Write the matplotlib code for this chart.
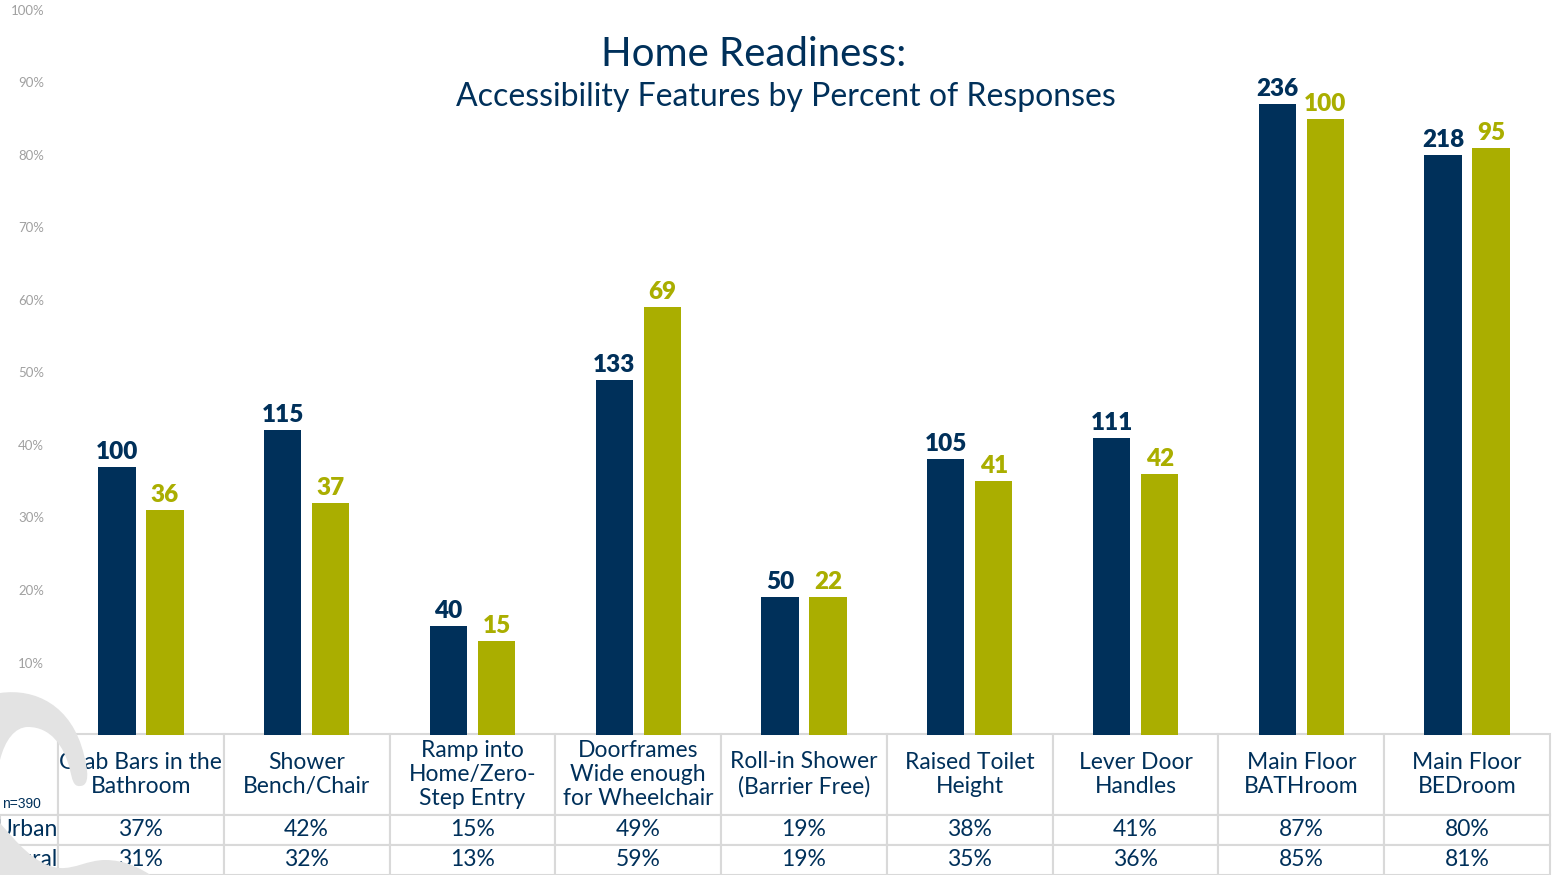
import matplotlib.pyplot as plt
from matplotlib.path import Path
from matplotlib.patches import PathPatch
from matplotlib.table import Table
import numpy as np

# Survey results, n=390
categorias = [
    "Grab Bars in the\nBathroom", "Shower\nBench/Chair", "Ramp into\nHome/Zero-\nStep Entry",
    "Doorframes\nWide enough\nfor Wheelchair", "Roll-in Shower\n(Barrier Free)", "Raised Toilet\nHeight",
    "Lever Door\nHandles", "Main Floor\nBATHroom", "Main Floor\nBEDroom",
]
urban_pct = [37, 42, 15, 49, 19, 38, 41, 87, 80]
rural_pct = [31, 32, 13, 59, 19, 35, 36, 85, 81]
urban_n = [100, 115, 40, 133, 50, 105, 111, 236, 218]
rural_n = [36, 37, 15, 69, 22, 41, 42, 100, 95]
linhas = ["Urban", "Rural"]
yticks = list(range(10, 101, 10))

NAVY = '#00305a'
OLIVE = '#aaae00'
GRADE = '#d9d9d9'
ONDA = '#e3e3e3'

plt.rcParams['font.family'] = ['Lato', 'DejaVu Sans']

W, H = 1553, 875
fig = plt.figure(figsize=(W / 100, H / 100), dpi=100, facecolor='white')
ax = fig.add_axes([58 / W, (H - 735) / H, (1550 - 58) / W, 725 / H])

x = np.arange(len(categorias))
larg = 0.225
b1 = ax.bar(x - 0.145, urban_pct, larg, color=NAVY, zorder=2)
b2 = ax.bar(x + 0.145, rural_pct, larg, color=OLIVE, zorder=2)
ax.bar_label(b1, labels=[str(v) for v in urban_n], padding=3, color=NAVY,
             fontsize=17.5, fontweight='heavy')
ax.bar_label(b2, labels=[str(v) for v in rural_n], padding=3, color=OLIVE,
             fontsize=17.5, fontweight='heavy')

ax.set_xlim(-0.5, len(categorias) - 0.5)
ax.set_ylim(0, 100)
ax.set_yticks(yticks)
ax.set_yticklabels([f'{t}%' for t in yticks], color='#a0a0a0', fontsize=9.5)
ax.tick_params(axis='y', length=0, pad=10)
ax.set_xticks([])
for s in ax.spines.values():
    s.set_visible(False)

# tabela de percentuais abaixo das barras
rotulo_w = 58 / 1492
col_w = 1 / len(categorias)
tab = Table(ax, bbox=[-rotulo_w, -140 / 725, 1 + rotulo_w, 141 / 725])
linhas_tab = [categorias, [f'{v}%' for v in urban_pct], [f'{v}%' for v in rural_pct]]
for r, valores in enumerate(linhas_tab):
    h = 81 if r == 0 else 30
    rot = '' if r == 0 else linhas[r - 1]
    c0 = tab.add_cell(r, 0, rotulo_w, h, text=rot, loc='right', edgecolor=GRADE)
    c0.PAD = 0.0
    if r == 0:
        c0.visible_edges = 'BR'
    for c, v in enumerate(valores, start=1):
        tab.add_cell(r, c, col_w, h, text=v, loc='center', edgecolor=GRADE)
tab.auto_set_font_size(False)
tab.set_fontsize(16.5)
for cell in tab.get_celld().values():
    cell.set_linewidth(1.5)
    cell.get_text().set_color(NAVY)
tab.set_clip_on(False)
ax.add_table(tab)

fig.text(2 / W, 1 - 804 / H, 'n=390', fontsize=10, color=NAVY, family='Liberation Sans',
         ha='left', va='center')

# titulo
fig.text(754 / W, 1 - 55 / H, 'Home Readiness:', fontsize=29, color=NAVY,
         ha='center', va='center')
fig.text(786 / W, 1 - 97 / H, 'Accessibility Features by Percent of Responses', fontsize=23,
         color=NAVY, ha='center', va='center')


# onda decorativa no canto inferior esquerdo
def px(pts):
    return [(a / W, 1 - b / H) for a, b in pts]


C = Path.CURVE4
crista = px([(0, 693),
             (35, 688), (72, 705), (84, 755),
             (88, 770), (90, 786), (80, 786),
             (73, 787), (72, 778), (70, 770),
             (64, 745), (50, 727), (28, 727),
             (15, 727), (5, 740), (0, 760),
             (0, 693)])
cod = [Path.MOVETO] + [C] * 15 + [Path.CLOSEPOLY]
fig.patches.append(PathPatch(Path(crista, cod), facecolor=ONDA, edgecolor='none',
                             transform=fig.transFigure, zorder=5))
base = px([(0, 823),
           (15, 840), (35, 866), (60, 868),
           (75, 869), (88, 860), (105, 860),
           (125, 860), (140, 868), (152, 876),
           (0, 876), (0, 823)])
cod2 = [Path.MOVETO] + [C] * 9 + [Path.LINETO, Path.CLOSEPOLY]
fig.patches.append(PathPatch(Path(base, cod2), facecolor=ONDA, edgecolor='none',
                             transform=fig.transFigure, zorder=5))

plt.savefig('out.png', dpi=100, facecolor='white')
